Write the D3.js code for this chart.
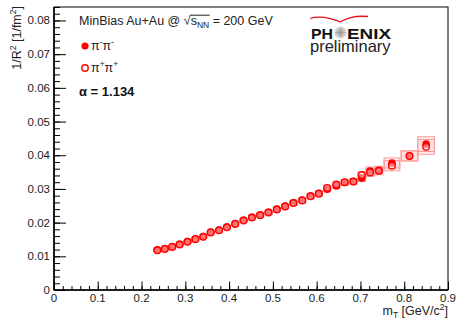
<!DOCTYPE html>
<html>
<head>
<meta charset="utf-8">
<script src="https://cdn.jsdelivr.net/npm/d3@7"></script>
<style>
  body { margin: 0; background: #fff; }
  svg { display: block; font-family: "Liberation Sans", Arial, sans-serif; }
</style>
</head>
<body>
<svg id="chart" width="456" height="319"></svg>
<script>
// mT bin centres [GeV/c^2]
const mT = [0.236, 0.253, 0.270, 0.287, 0.305, 0.323, 0.341, 0.358, 0.377, 0.395,
            0.414, 0.433, 0.452, 0.471, 0.490, 0.509, 0.528, 0.547, 0.567, 0.586,
            0.605, 0.624, 0.645, 0.664, 0.684, 0.703, 0.722, 0.742, 0.772, 0.812, 0.850];
// 1/R^2 [1/fm^2]
const piMinus = [0.0119, 0.0123, 0.0129, 0.0136, 0.0144, 0.0152, 0.0159, 0.0172, 0.0178, 0.0187,
                 0.0197, 0.0207, 0.0216, 0.0223, 0.0231, 0.0240, 0.0249, 0.0259, 0.0267, 0.0279,
                 0.0287, 0.0299, 0.0309, 0.0319, 0.0322, 0.0332, 0.0353, 0.0355, 0.0377, 0.0398, 0.0433];
const piPlus  = [0.0118, 0.0122, 0.0128, 0.0135, 0.0143, 0.0151, 0.0158, 0.0171, 0.0177, 0.0186,
                 0.0196, 0.0206, 0.0215, 0.0222, 0.0230, 0.0239, 0.0248, 0.0258, 0.0266, 0.0278,
                 0.0286, 0.0303, 0.0313, 0.0320, 0.0322, 0.0341, 0.0349, 0.0354, 0.0369, 0.0398, 0.0425];
// systematic uncertainty and bin half width (for the boxes)
const sysErr = [0.0004, 0.0004, 0.0004, 0.0004, 0.0004, 0.0005, 0.0005, 0.0005, 0.0005, 0.0005,
                0.0005, 0.0005, 0.0006, 0.0006, 0.0006, 0.0006, 0.0006, 0.0007, 0.0007, 0.0007,
                0.0007, 0.0008, 0.0008, 0.0008, 0.0009, 0.0010, 0.0012, 0.0012, 0.0015, 0.0015, 0.0022];
const binHalf = [0.008, 0.008, 0.008, 0.008, 0.008, 0.008, 0.008, 0.008, 0.008, 0.008,
                 0.008, 0.008, 0.008, 0.008, 0.008, 0.008, 0.008, 0.008, 0.008, 0.008,
                 0.008, 0.008, 0.008, 0.008, 0.008, 0.009, 0.009, 0.009, 0.018, 0.019, 0.019];

const xTicks = [0, 0.1, 0.2, 0.3, 0.4, 0.5, 0.6, 0.7, 0.8, 0.9];
const yTicks = [0, 0.01, 0.02, 0.03, 0.04, 0.05, 0.06, 0.07, 0.08];

const svg = d3.select("#chart");
const plotL = 54, plotR = 448, plotT = 7, plotB = 290;

const x = d3.scaleLinear().domain([0, 0.9]).range([plotL, plotR]);
const y = d3.scaleLinear().domain([0, 0.084]).range([plotB, plotT]);

const red = "#ff0000";

// frame
svg.append("rect")
    .attr("x", plotL).attr("y", plotT)
    .attr("width", plotR - plotL).attr("height", plotB - plotT)
    .attr("fill", "none").attr("stroke", "#000").attr("stroke-width", 1);

// x axis: ticks pointing up
const xMinor = svg.append("g").attr("transform", `translate(0,${plotB})`)
    .call(d3.axisTop(x).tickValues(d3.range(0, 0.9001, 0.02)).tickSize(4).tickFormat(""));
xMinor.select(".domain").remove();
const xMajor = svg.append("g").attr("transform", `translate(0,${plotB})`)
    .call(d3.axisTop(x).tickValues(xTicks).tickSize(8.5).tickFormat(""));
xMajor.select(".domain").remove();
svg.append("g").selectAll("text")
    .data(xTicks)
    .join("text")
    .attr("x", d => x(d))
    .attr("y", plotB + 11.5)
    .attr("text-anchor", "middle")
    .attr("font-size", 11.5)
    .attr("fill", "#222")
    .text(d => d === 0 ? "0" : d3.format(".1f")(d));

// y axis: ticks pointing right
const yMinor = svg.append("g").attr("transform", `translate(${plotL},0)`)
    .call(d3.axisRight(y).tickValues(d3.range(0, 0.0841, 0.002)).tickSize(6).tickFormat(""));
yMinor.select(".domain").remove();
const yMajor = svg.append("g").attr("transform", `translate(${plotL},0)`)
    .call(d3.axisRight(y).tickValues(yTicks).tickSize(12).tickFormat(""));
yMajor.select(".domain").remove();
svg.append("g").selectAll("text")
    .data(yTicks)
    .join("text")
    .attr("x", plotL - 4)
    .attr("y", d => y(d) + 4)
    .attr("text-anchor", "end")
    .attr("font-size", 11.5)
    .attr("fill", "#222")
    .text(d => d === 0 ? "0" : d3.format(".2f")(d));

svg.selectAll(".tick line").attr("stroke", "#000").attr("stroke-width", 1);

// thicker axis lines
svg.append("line").attr("x1", plotL).attr("x2", plotL).attr("y1", plotT).attr("y2", plotB)
    .attr("stroke", "#000").attr("stroke-width", 1.6);
svg.append("line").attr("x1", plotL).attr("x2", plotR).attr("y1", plotB).attr("y2", plotB)
    .attr("stroke", "#000").attr("stroke-width", 1.6);

// axis titles
const yTitle = svg.append("text")
    .attr("transform", `translate(21,6) rotate(-90)`)
    .attr("text-anchor", "end")
    .attr("font-size", 12.5)
    .attr("fill", "#222");
yTitle.append("tspan").text("1/R");
yTitle.append("tspan").attr("dy", -5).attr("font-size", 8.5).text("2");
yTitle.append("tspan").attr("dy", 5).text(" [1/fm");
yTitle.append("tspan").attr("dy", -5).attr("font-size", 8.5).text("2");
yTitle.append("tspan").attr("dy", 5).text("]");

const xTitle = svg.append("text")
    .attr("x", plotR).attr("y", 315)
    .attr("text-anchor", "end")
    .attr("font-size", 12.5)
    .attr("fill", "#222");
xTitle.append("tspan").text("m");
xTitle.append("tspan").attr("dy", 3).attr("font-size", 8.5).text("T");
xTitle.append("tspan").attr("dy", -3).text(" [GeV/c");
xTitle.append("tspan").attr("dy", -5).attr("font-size", 8.5).text("2");
xTitle.append("tspan").attr("dy", 5).text("]");

// systematic boxes
const idx = d3.range(mT.length);
const boxes = svg.append("g");
[piMinus, piPlus].forEach(series => {
    boxes.selectAll(null)
        .data(idx)
        .join("rect")
        .attr("x", i => x(mT[i] - binHalf[i]))
        .attr("width", i => x(mT[i] + binHalf[i]) - x(mT[i] - binHalf[i]))
        .attr("y", i => y(series[i] + sysErr[i]))
        .attr("height", i => y(series[i] - sysErr[i]) - y(series[i] + sysErr[i]))
        .attr("fill", "#ff0000").attr("fill-opacity", 0.06)
        .attr("stroke", "#ff9a9a").attr("stroke-width", 1);
});

// pi- pi- (filled)
svg.append("g").selectAll("circle")
    .data(idx)
    .join("circle")
    .attr("cx", i => x(mT[i]))
    .attr("cy", i => y(piMinus[i]))
    .attr("r", 3.8)
    .attr("fill", red);

// pi+ pi+ (open)
svg.append("g").selectAll("circle")
    .data(idx)
    .join("circle")
    .attr("cx", i => x(mT[i]))
    .attr("cy", i => y(piPlus[i]))
    .attr("r", 3.3)
    .attr("fill", "#fff").attr("fill-opacity", 0.45)
    .attr("stroke", red).attr("stroke-width", 1.4);

// legend
const info = svg.append("text").attr("x", 79).attr("y", 25)
    .attr("font-size", 12.5).attr("fill", "#222");
info.append("tspan").text("MinBias Au+Au @ ");
info.append("tspan").text("\u221A");
info.append("tspan").text("s");
info.append("tspan").attr("dy", 3).attr("font-size", 8.5).text("NN");
info.append("tspan").attr("dy", -3).text(" = 200 GeV");
// overline of the root sign
const sNode = info.selectAll("tspan").nodes();
const b1 = sNode[2].getBBox(), b2 = sNode[3].getBBox();
svg.append("line")
    .attr("x1", b1.x - 0.5).attr("x2", b2.x + b2.width + 0.5)
    .attr("y1", b1.y + 1.2).attr("y2", b1.y + 1.2)
    .attr("stroke", "#222").attr("stroke-width", 1);

svg.append("circle").attr("cx", 85).attr("cy", 46).attr("r", 3.6).attr("fill", red);
svg.append("circle").attr("cx", 85).attr("cy", 68).attr("r", 3.2)
    .attr("fill", "none").attr("stroke", red).attr("stroke-width", 1.4);

const leg1 = svg.append("text").attr("x", 91).attr("y", 50)
    .attr("font-size", 12.5).attr("fill", "#222");
leg1.append("tspan").text("\u03C0");
leg1.append("tspan").attr("dy", -5).attr("font-size", 8.5).text("-");
leg1.append("tspan").attr("dy", 5).text("\u03C0");
leg1.append("tspan").attr("dy", -5).attr("font-size", 8.5).text("-");

const leg2 = svg.append("text").attr("x", 91).attr("y", 72)
    .attr("font-size", 12.5).attr("fill", "#222");
leg2.append("tspan").text("\u03C0");
leg2.append("tspan").attr("dy", -5).attr("font-size", 8.5).text("+");
leg2.append("tspan").attr("dy", 5).text("\u03C0");
leg2.append("tspan").attr("dy", -5).attr("font-size", 8.5).text("+");

svg.append("text").attr("x", 79).attr("y", 96)
    .attr("font-size", 13).attr("font-weight", "bold").attr("fill", "#111")
    .text("\u03B1 = 1.134");

// PHENIX logo
const logo = svg.append("g");
logo.append("path")
    .attr("d", "M310,18.5 Q322,14.5 340.5,21.8 Q352,15 368,16.5")
    .attr("fill", "none").attr("stroke", "#e8101a").attr("stroke-width", 1.3);
logo.append("text").attr("x", 311).attr("y", 38.5)
    .attr("font-size", 15).attr("font-weight", "bold").attr("fill", "#111")
    .attr("textLength", 22).attr("lengthAdjust", "spacingAndGlyphs")
    .text("PH");
logo.append("text").attr("x", 347).attr("y", 38.5)
    .attr("font-size", 15).attr("font-weight", "bold").attr("fill", "#111")
    .attr("textLength", 44).attr("lengthAdjust", "spacingAndGlyphs")
    .text("ENIX");
const star = logo.append("g").attr("transform", "translate(340.5,32.5)");
star.selectAll("line")
    .data(d3.range(20))
    .join("line")
    .attr("x1", 0).attr("y1", 0)
    .attr("x2", k => 6 * Math.cos(k * Math.PI / 10))
    .attr("y2", k => 6 * Math.sin(k * Math.PI / 10))
    .attr("stroke", "#9a9a9a").attr("stroke-width", 0.8);
logo.append("text").attr("x", 310).attr("y", 51.7)
    .attr("font-size", 16.5).attr("fill", "#222")
    .attr("textLength", 80.5).attr("lengthAdjust", "spacingAndGlyphs")
    .text("preliminary");
</script>
</body>
</html>
